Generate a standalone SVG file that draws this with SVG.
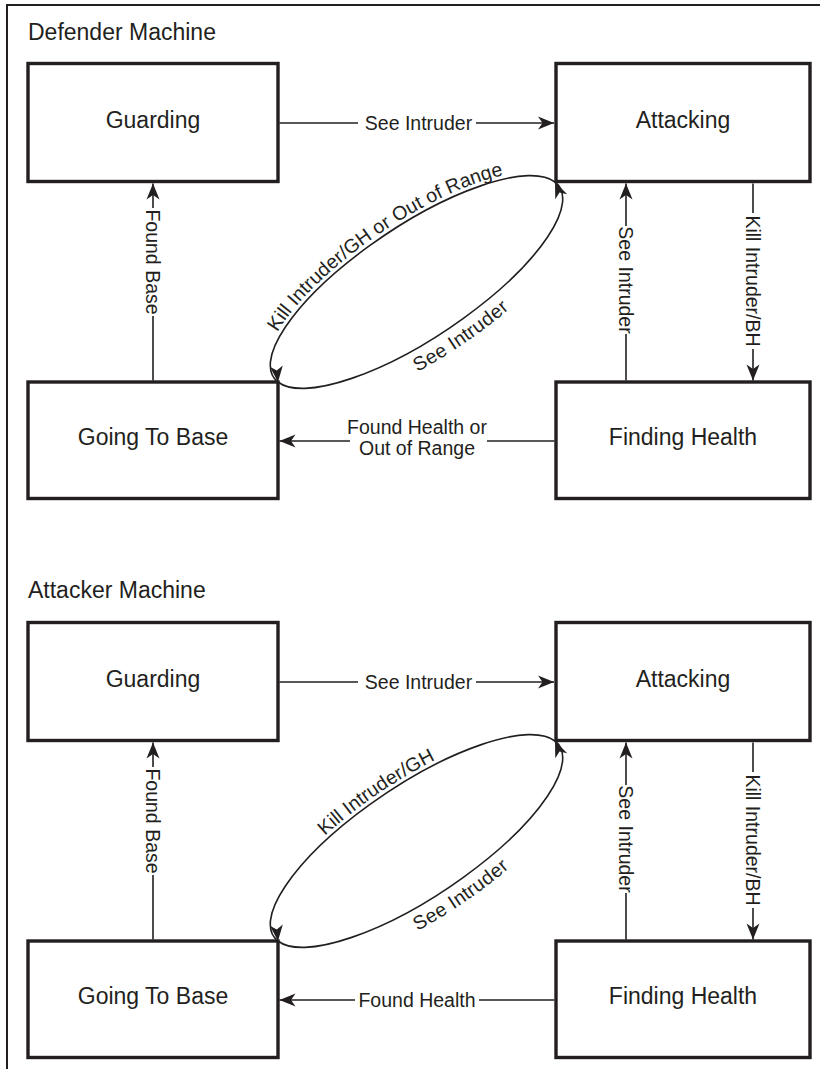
<svg xmlns="http://www.w3.org/2000/svg" width="820" height="1069" viewBox="0 0 820 1069">
  <style>
    .frame { fill: none; stroke: #231f20; stroke-width: 2; }
    .state rect { fill: #ffffff; stroke: #231f20; stroke-width: 3.4; }
    .state text { font-family: "Liberation Sans", Arial, Helvetica, sans-serif; font-size: 23px; fill: #231f20; text-anchor: middle; }
    .title { font-family: "Liberation Sans", Arial, Helvetica, sans-serif; font-size: 23px; fill: #231f20; }
    .edge { fill: none; stroke: #231f20; stroke-width: 1.6; }
    .arrow { marker-end: url(#head); }
    .loop-in { marker-end: url(#headLoopUp); }
    .loop-out { marker-end: url(#headLoopDown); }
    .lbl { font-family: "Liberation Sans", Arial, Helvetica, sans-serif; font-size: 19.5px; fill: #231f20; }
    .mid { text-anchor: middle; }
  </style>
  <defs>
    <marker id="head" markerUnits="userSpaceOnUse" viewBox="0 0 17 14" markerWidth="17" markerHeight="14" refX="16.5" refY="7" orient="auto">
      <path d="M16.5,7 L0.5,0.5 L5,7 L0.5,13.5 Z" fill="#231f20"/>
    </marker>
    <!-- loop arrowheads sit on the box corners, aimed along the incoming side of the loop -->
    <marker id="headLoopUp" markerUnits="userSpaceOnUse" viewBox="0 0 17 14" markerWidth="17" markerHeight="14" refX="16.5" refY="7" orient="-113">
      <path d="M16.5,7 L0.5,0.5 L5,7 L0.5,13.5 Z" fill="#231f20"/>
    </marker>
    <marker id="headLoopDown" markerUnits="userSpaceOnUse" viewBox="0 0 17 14" markerWidth="17" markerHeight="14" refX="16.5" refY="7" orient="84">
      <path d="M16.5,7 L0.5,0.5 L5,7 L0.5,13.5 Z" fill="#231f20"/>
    </marker>
    <!-- upper half of the Attacking / Going To Base loop, drawn left to right for its label -->
    <path id="loopTop" d="M278,382 A170,56 -33.75 0 1 555,182"/>
    <!-- lower half of the loop, left to right -->
    <path id="loopBottom" d="M278,382 A170,56 -33.75 0 0 555,182"/>
  </defs>

  <!-- page frame -->
  <path class="frame" d="M7,1069 V5 H820"/>

  <!-- ============ Defender Machine ============ -->
  <g id="defender">
    <text class="title" x="28" y="40">Defender Machine</text>

    <g id="def-guarding" class="state">
      <rect x="28" y="63.5" width="250" height="118"/>
      <text x="153" y="128">Guarding</text>
    </g>
    <g id="def-attacking" class="state">
      <rect x="556" y="63.5" width="254" height="118"/>
      <text x="683" y="128">Attacking</text>
    </g>
    <g id="def-going-to-base" class="state">
      <rect x="28" y="382" width="250" height="116.5"/>
      <text x="153" y="445">Going To Base</text>
    </g>
    <g id="def-finding-health" class="state">
      <rect x="556" y="382" width="254" height="116.5"/>
      <text x="683" y="445">Finding Health</text>
    </g>

    <g id="def-connectors">
      <!-- Guarding -> Attacking -->
      <path class="edge" d="M279.5,123 H358"/>
      <path class="edge arrow" d="M476,123 H554"/>
      <text class="lbl mid" x="418.5" y="130">See Intruder</text>

      <!-- Going To Base -> Guarding -->
      <path class="edge" d="M153,380.5 V316"/>
      <path class="edge arrow" d="M153,208 V183.5"/>
      <text class="lbl mid" transform="translate(146,262) rotate(90)">Found Base</text>

      <!-- Finding Health -> Attacking -->
      <path class="edge" d="M626,380.5 V334"/>
      <path class="edge arrow" d="M626,226 V183.5"/>
      <text class="lbl mid" transform="translate(619,280) rotate(90)">See Intruder</text>

      <!-- Attacking -> Finding Health -->
      <path class="edge" d="M753,183.5 V213"/>
      <path class="edge arrow" d="M753,349 V380.5"/>
      <text class="lbl mid" transform="translate(746,281) rotate(90)">Kill Intruder/BH</text>

      <!-- Finding Health -> Going To Base -->
      <path class="edge" d="M554.5,441 H487"/>
      <path class="edge arrow" d="M350,441 H279.5"/>
      <text class="lbl mid" x="417" y="434">Found Health or</text>
      <text class="lbl mid" x="417" y="455">Out of Range</text>

      <!-- Attacking <-> Going To Base loop -->
      <path class="edge loop-out" d="M555,182 A170,56 -33.75 0 0 278,382"/>
      <path class="edge loop-in" d="M278,382 A170,56 -33.75 0 0 555,182"/>
      <text class="lbl mid" dy="-4"><textPath href="#loopTop" startOffset="50%">Kill Intruder/GH or Out of Range</textPath></text>
      <text class="lbl mid" dy="21"><textPath href="#loopBottom" startOffset="50%">See Intruder</textPath></text>
    </g>
  </g>

  <!-- ============ Attacker Machine ============ -->
  <g id="attacker" transform="translate(0,559)">
    <text class="title" x="28" y="39">Attacker Machine</text>

    <g id="att-guarding" class="state">
      <rect x="28" y="63.5" width="250" height="118"/>
      <text x="153" y="128">Guarding</text>
    </g>
    <g id="att-attacking" class="state">
      <rect x="556" y="63.5" width="254" height="118"/>
      <text x="683" y="128">Attacking</text>
    </g>
    <g id="att-going-to-base" class="state">
      <rect x="28" y="382" width="250" height="116.5"/>
      <text x="153" y="445">Going To Base</text>
    </g>
    <g id="att-finding-health" class="state">
      <rect x="556" y="382" width="254" height="116.5"/>
      <text x="683" y="445">Finding Health</text>
    </g>

    <g id="att-connectors">
      <!-- Guarding -> Attacking -->
      <path class="edge" d="M279.5,123 H358"/>
      <path class="edge arrow" d="M476,123 H554"/>
      <text class="lbl mid" x="418.5" y="130">See Intruder</text>

      <!-- Going To Base -> Guarding -->
      <path class="edge" d="M153,380.5 V316"/>
      <path class="edge arrow" d="M153,208 V183.5"/>
      <text class="lbl mid" transform="translate(146,262) rotate(90)">Found Base</text>

      <!-- Finding Health -> Attacking -->
      <path class="edge" d="M626,380.5 V334"/>
      <path class="edge arrow" d="M626,226 V183.5"/>
      <text class="lbl mid" transform="translate(619,280) rotate(90)">See Intruder</text>

      <!-- Attacking -> Finding Health -->
      <path class="edge" d="M753,183.5 V213"/>
      <path class="edge arrow" d="M753,349 V380.5"/>
      <text class="lbl mid" transform="translate(746,281) rotate(90)">Kill Intruder/BH</text>

      <!-- Finding Health -> Going To Base -->
      <path class="edge" d="M554.5,441 H479"/>
      <path class="edge arrow" d="M355,441 H279.5"/>
      <text class="lbl mid" x="417" y="448">Found Health</text>

      <!-- Attacking <-> Going To Base loop -->
      <path class="edge loop-out" d="M555,182 A170,56 -33.75 0 0 278,382"/>
      <path class="edge loop-in" d="M278,382 A170,56 -33.75 0 0 555,182"/>
      <text class="lbl mid" dy="-4"><textPath href="#loopTop" startOffset="50%">Kill Intruder/GH</textPath></text>
      <text class="lbl mid" dy="21"><textPath href="#loopBottom" startOffset="50%">See Intruder</textPath></text>
    </g>
  </g>
</svg>
